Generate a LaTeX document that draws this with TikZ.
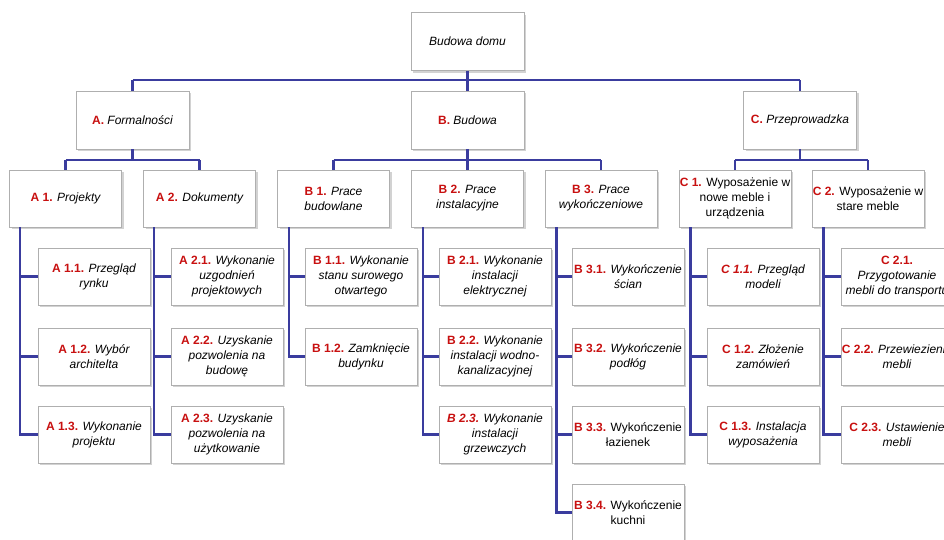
\documentclass[tikz,border=0pt]{standalone}
\usepackage{fontspec}
\setmainfont{Liberation Sans}
\usetikzlibrary{shadows}
\definecolor{linkblue}{RGB}{58,60,158}
\definecolor{labred}{RGB}{200,16,16}
\definecolor{boxgray}{RGB}{175,175,175}
\newcommand{\lab}[1]{\textcolor{labred}{\bfseries #1}}
\newcommand{\labi}[1]{\textcolor{labred}{\bfseries\itshape #1}}
\tikzset{
  wbs/.style={draw=boxgray, line width=0.8pt, fill=white, align=center,
    inner sep=0pt, font=\fontsize{12}{15}\selectfont,
    drop shadow={shadow xshift=2pt, shadow yshift=-2pt, opacity=0.35, fill=gray}},
  topbox/.style={wbs, minimum width=113pt, minimum height=58pt},
  lvbox/.style={wbs, minimum width=112pt, minimum height=57pt},
  link/.style={draw=linkblue, line width=2.6pt},
}
\begin{document}
\begin{tikzpicture}[x=1pt,y=-1pt]
\useasboundingbox (0,0) rectangle (944,539);
\fill[white] (0,0) rectangle (944,539);
% root and level 1
\node[topbox] (root) at (467.5,41.5) {\itshape Budowa domu};
\node[topbox] (A) at (132.5,120) {\lab{A.} \itshape Formalności};
\node[topbox] (B) at (467.5,120) {\lab{B.} \itshape Budowa};
\node[topbox] (C) at (800,120) {\lab{C.} \itshape Przeprowadzka};
% level 2
\node[lvbox] (A1) at (65.5,198.5) {\lab{A 1.} \itshape Projekty};
\node[lvbox] (A2) at (199.5,198.5) {\lab{A 2.} \itshape Dokumenty};
\node[lvbox] (B1) at (333.5,198.5) {\lab{B 1.} \itshape Prace\\\itshape budowlane};
\node[lvbox] (B2) at (467.5,198.5) {\lab{B 2.} \itshape Prace\\\itshape instalacyjne};
\node[lvbox] (B3) at (601,198.5) {\lab{B 3.} \itshape Prace\\\itshape wykończeniowe};
\node[lvbox] (C1) at (735,198.5) {\lab{C 1.} Wyposażenie w\\nowe meble i\\urządzenia};
\node[lvbox] (C2) at (868,198.5) {\lab{C 2.} Wyposażenie w\\stare meble};
% level 3 - A
\node[lvbox] (A11) at (94,276.5) {\lab{A 1.1.} \itshape Przegląd\\\itshape rynku};
\node[lvbox] (A12) at (94,356.5) {\lab{A 1.2.} \itshape Wybór\\\itshape architelta};
\node[lvbox] (A13) at (94,434.5) {\lab{A 1.3.} \itshape Wykonanie\\\itshape projektu};
\node[lvbox] (A21) at (227,276.5) {\lab{A 2.1.} \itshape Wykonanie\\\itshape uzgodnień\\\itshape projektowych};
\node[lvbox] (A22) at (227,356.5) {\lab{A 2.2.} \itshape Uzyskanie\\\itshape pozwolenia na\\\itshape budowę};
\node[lvbox] (A23) at (227,434.5) {\lab{A 2.3.} \itshape Uzyskanie\\\itshape pozwolenia na\\\itshape użytkowanie};
% level 3 - B
\node[lvbox] (B11) at (361,276.5) {\lab{B 1.1.} \itshape Wykonanie\\\itshape stanu surowego\\\itshape otwartego};
\node[lvbox] (B12) at (361,356.5) {\lab{B 1.2.} \itshape Zamknięcie\\\itshape budynku};
\node[lvbox] (B21) at (495,276.5) {\lab{B 2.1.} \itshape Wykonanie\\\itshape instalacji\\\itshape elektrycznej};
\node[lvbox] (B22) at (495,356.5) {\lab{B 2.2.} \itshape Wykonanie\\\itshape instalacji wodno-\\\itshape kanalizacyjnej};
\node[lvbox] (B23) at (495,434.5) {\labi{B 2.3.} \itshape Wykonanie\\\itshape instalacji\\\itshape grzewczych};
\node[lvbox] (B31) at (628,276.5) {\lab{B 3.1.} \itshape Wykończenie\\\itshape ścian};
\node[lvbox] (B32) at (628,356.5) {\lab{B 3.2.} \itshape Wykończenie\\\itshape podłóg};
\node[lvbox] (B33) at (628,434.5) {\lab{B 3.3.} Wykończenie\\łazienek};
\node[lvbox] (B34) at (628,512.5) {\lab{B 3.4.} Wykończenie\\kuchni};
% level 3 - C
\node[lvbox] (C11) at (763,276.5) {\labi{C 1.1.} \itshape Przegląd\\\itshape modeli};
\node[lvbox] (C12) at (763,356.5) {\lab{C 1.2.} \itshape Złożenie\\\itshape zamówień};
\node[lvbox] (C13) at (763,434.5) {\lab{C 1.3.} \itshape Instalacja\\\itshape wyposażenia};
\node[lvbox] (C21) at (897,276.5) {\lab{C 2.1.}\\\itshape Przygotowanie\\\itshape mebli do transportu};
\node[lvbox] (C22) at (897,356.5) {\lab{C 2.2.} \itshape Przewiezienie\\\itshape mebli};
\node[lvbox] (C23) at (897,434.5) {\lab{C 2.3.} \itshape Ustawienie\\\itshape mebli};
% bus levels
\coordinate (bus0) at (0,80);
\coordinate (bus1) at (0,160);
% connectors root -> level 1
\draw[link] (root.south) -- (root.south |- bus0);
\draw[link] (A.north |- bus0) -- (C.north |- bus0);
\draw[link] (A.north |- bus0) -- (A.north);
\draw[link] (B.north |- bus0) -- (B.north);
\draw[link] (C.north |- bus0) -- (C.north);
% level 1 -> level 2
\draw[link] (A.south) -- (A.south |- bus1);
\draw[link] (A1.north |- bus1) -- (A2.north |- bus1);
\draw[link] (A1.north |- bus1) -- (A1.north);
\draw[link] (A2.north |- bus1) -- (A2.north);
\draw[link] (B.south) -- (B.south |- bus1);
\draw[link] (B1.north |- bus1) -- (B3.north |- bus1);
\draw[link] (B1.north |- bus1) -- (B1.north);
\draw[link] (B2.north |- bus1) -- (B2.north);
\draw[link] (B3.north |- bus1) -- (B3.north);
\draw[link] (C.south) -- (C.south |- bus1);
\draw[link] (C1.north |- bus1) -- (C2.north |- bus1);
\draw[link] (C1.north |- bus1) -- (C1.north);
\draw[link] (C2.north |- bus1) -- (C2.north);
% spines level 2 -> level 3
\draw[link] ([xshift=11pt]A1.south west) |- (A13.west);
\draw[link] ([xshift=11pt]A1.south west |- A11.west) -- (A11.west);
\draw[link] ([xshift=11pt]A1.south west |- A12.west) -- (A12.west);
\draw[link] ([xshift=11pt]A2.south west) |- (A23.west);
\draw[link] ([xshift=11pt]A2.south west |- A21.west) -- (A21.west);
\draw[link] ([xshift=11pt]A2.south west |- A22.west) -- (A22.west);
\draw[link] ([xshift=12pt]B1.south west) |- (B12.west);
\draw[link] ([xshift=12pt]B1.south west |- B11.west) -- (B11.west);
\draw[link] ([xshift=12pt]B2.south west) |- (B23.west);
\draw[link] ([xshift=12pt]B2.south west |- B21.west) -- (B21.west);
\draw[link] ([xshift=12pt]B2.south west |- B22.west) -- (B22.west);
\draw[link] ([xshift=12pt]B3.south west) |- (B34.west);
\draw[link] ([xshift=12pt]B3.south west |- B31.west) -- (B31.west);
\draw[link] ([xshift=12pt]B3.south west |- B32.west) -- (B32.west);
\draw[link] ([xshift=12pt]B3.south west |- B33.west) -- (B33.west);
\draw[link] ([xshift=12pt]C1.south west) |- (C13.west);
\draw[link] ([xshift=12pt]C1.south west |- C11.west) -- (C11.west);
\draw[link] ([xshift=12pt]C1.south west |- C12.west) -- (C12.west);
\draw[link] ([xshift=12pt]C2.south west) |- (C23.west);
\draw[link] ([xshift=12pt]C2.south west |- C21.west) -- (C21.west);
\draw[link] ([xshift=12pt]C2.south west |- C22.west) -- (C22.west);
\end{tikzpicture}
\end{document}
